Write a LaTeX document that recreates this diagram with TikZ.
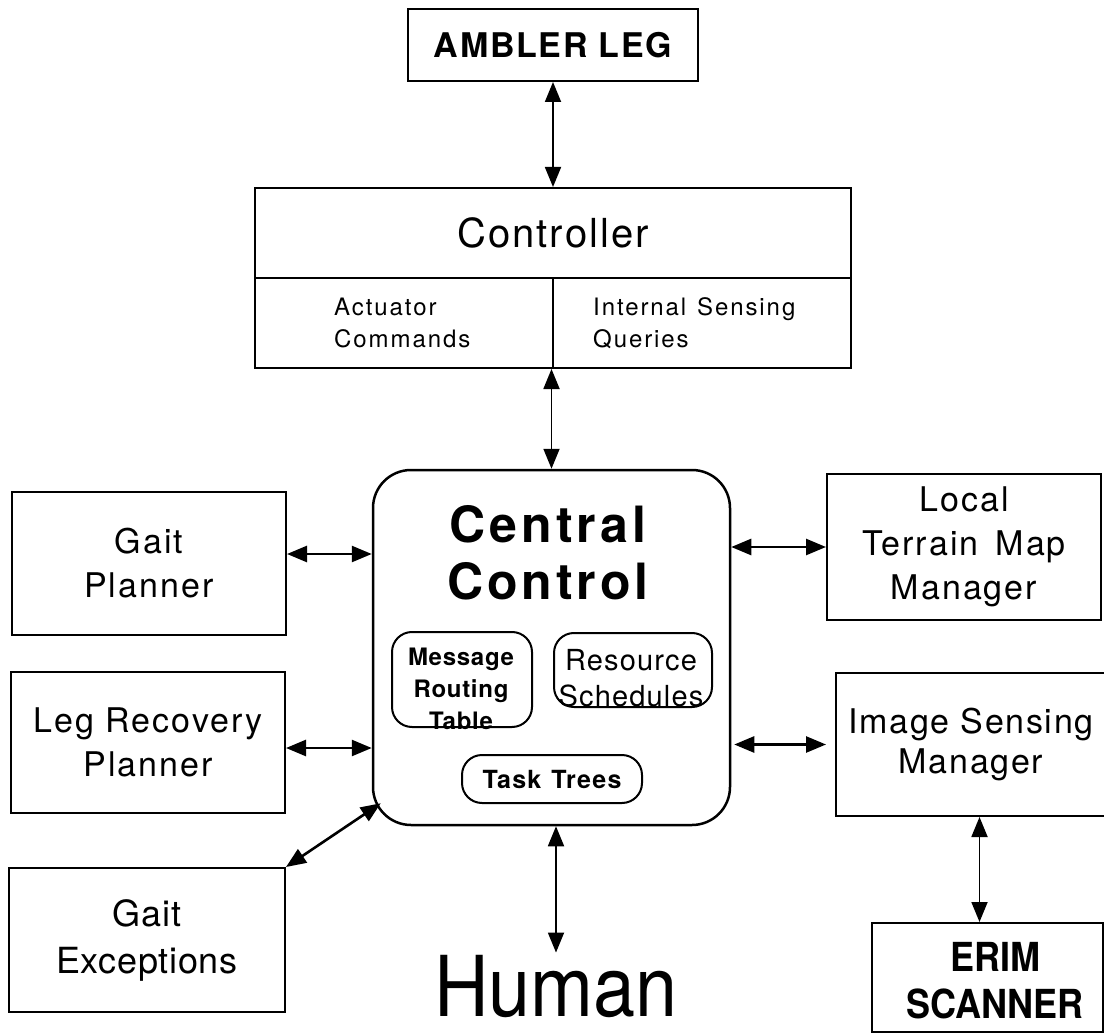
\documentclass[tikz,border=0pt]{standalone}
\usepackage{fontspec}
\setmainfont{TeX Gyre Heros}
\newfontfamily\hvn[FakeStretch=0.9]{TeX Gyre Heros}
\usetikzlibrary{arrows.meta, calc, positioning}
\newcommand{\lsp}[1]{\addfontfeature{LetterSpace=#1}}
\tikzset{
  box/.style={draw, line width=2pt, inner sep=0pt, align=center},
  ibox/.style={draw, line width=2pt, inner sep=0pt, rounded corners=20pt},
  lbl/.style={font=\fontsize{34}{44}\selectfont\lsp{6}},
  sublbl/.style={inner sep=0pt, align=left, font=\fontsize{24}{32}\selectfont\lsp{8}},
  dbl/.style={{Triangle[length=20pt,width=16pt]}-{Triangle[length=20pt,width=16pt]}, line width=2.6pt},
  dblv/.style={{Triangle[length=20pt,width=16pt]}-{Triangle[length=20pt,width=16pt]}, line width=1.8pt},
}
\begin{document}
\begin{tikzpicture}[x=1pt, y=-1pt]
  \useasboundingbox (0,0) rectangle (1104,1035);
  % robot side
  \node[box, minimum width=290, minimum height=72,
    font=\fontsize{34}{40}\selectfont\bfseries\lsp{5}] (amb) at (553,45) {AMBLER LEG};
  \node[box, minimum width=596, minimum height=180] (ctrl) at (553,278) {};
  \draw[line width=2pt] (ctrl.west) -- (ctrl.east);
  \draw[line width=2pt] (ctrl.center) -- (ctrl.south);
  \node[inner sep=0pt, font=\fontsize{40}{44}\selectfont\lsp{5}] (ctrltxt)
    at ($(ctrl.north)!0.5!(ctrl.center)$) {Controller};
  \node[sublbl, anchor=west] (act) at (334,323) {Actuator\\Commands};
  \node[sublbl, anchor=west] (qry) at (593,323) {Internal\hspace{0.45em}Sensing\\Queries};
  % central control and its tables
  \node[box, line width=2.5pt, rounded corners=38pt, minimum width=357, minimum height=355] (cc) at (551.5,647.5) {};
  \node[inner sep=0pt, align=center, font=\fontsize{50}{57}\selectfont\bfseries\lsp{8}] (cctxt)
    at (548,553) {Central\\Control};
  \node[ibox, minimum width=140, minimum height=95] (mrt) at (462,679.5) {};
  \node[inner sep=0pt, align=center, font=\fontsize{24}{32}\selectfont\bfseries\lsp{3}] (mrttxt)
    at (461,689) {Message\\Routing\\Table};
  \node[ibox, minimum width=158, minimum height=74] (rs) at (633,670) {};
  \node[inner sep=0pt, align=center, font=\fontsize{29}{36}\selectfont\lsp{4}] (rstxt)
    at (631,678) {Resource\\Schedules};
  \node[ibox, minimum width=180, minimum height=48,
    font=\fontsize{25}{30}\selectfont\bfseries\lsp{5}] (tt) at (552,779) {Task\hspace{0.4em}Trees};
  % planners and managers
  \node[box, lbl, minimum width=274, minimum height=143] (gp) at (149,563.5) {Gait\\Planner};
  \node[box, lbl, minimum width=274, minimum height=141] (lr) at (148,742.5) {Leg Recovery\\Planner};
  \node[box, minimum width=276, minimum height=144,
    font=\fontsize{36}{47}\selectfont\lsp{2}] (ge) at (147,940) {Gait\\Exceptions};
  \node[box, lbl, minimum width=274, minimum height=146] (ltm) at (964,547) {Local\\Terrain\hspace{0.5em}Map\\Manager};
  \node[box, minimum width=270, minimum height=143,
    font=\fontsize{34}{40}\selectfont\lsp{5}] (ism) at (971,744.5) {Image Sensing\\Manager};
  \node[box, minimum width=231, minimum height=109] (erim) at (987.5,977.5) {};
  \node[inner sep=0pt, align=center, font=\fontsize{40}{47}\selectfont\hvn\bfseries] (erimtxt)
    at (995,981) {ERIM\\SCANNER};
  \node[inner sep=0pt, font=\fontsize{84}{90}\selectfont\hvn] (hum) at (556,987) {Human};
  % connections
  \coordinate (ek) at ([xshift=-8]erim.north);
  \draw[dblv] (amb.south) -- (amb.south |- ctrl.north);
  \draw[dblv] (cc.north) -- (cc.north |- ctrl.south);
  \draw[dbl] ([yshift=9.5]gp.east) -- ([yshift=9.5]gp.east -| cc.west);
  \draw[dbl] ([yshift=-5.5]lr.east) -- ([yshift=-5.5]lr.east -| cc.west);
  \draw[dbl] (ge.north east) -- ([shift={(9,-23)}]cc.south west);
  \draw[dbl] (ltm.west -| cc.east) -- (ltm.west);
  \draw[dbl, shorten <=3pt, shorten >=9pt] (ism.west -| cc.east) -- (ism.west);
  \draw[dblv, shorten >=3pt] (hum.north |- cc.south) -- (hum.north);
  \draw[dblv] (ek |- ism.south) -- (ek);
\end{tikzpicture}
\end{document}
